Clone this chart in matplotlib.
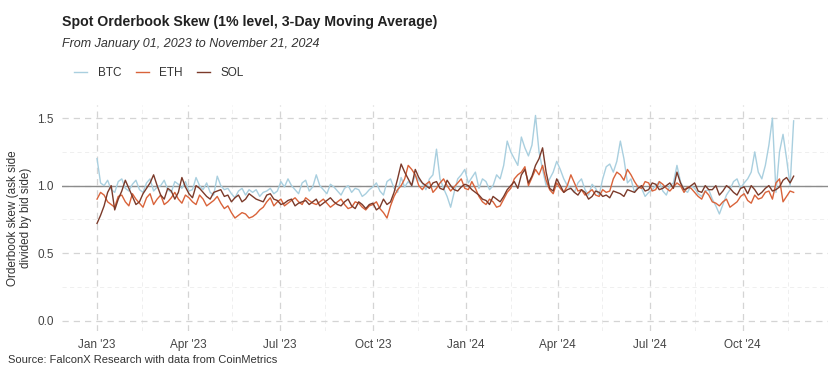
import matplotlib.pyplot as plt
import matplotlib.dates as mdates
import pandas as pd

plt.rcParams['font.family'] = ['Liberation Sans', 'DejaVu Sans']

# values every 3.5 days, Jan 1 2023 -> Nov 20 2024
dates = pd.date_range("2023-01-01", periods=198, freq="84h")

btc = [1.20, 1.02, 1.00, 1.04, 0.97, 0.95, 1.03, 1.05, 0.98, 0.96, 1.01, 1.04, 0.97, 0.95, 1.02, 1.05, 0.96, 0.99, 1.00, 1.04,
       0.97, 0.95, 1.03, 1.01, 0.98, 1.03, 0.96, 0.97, 1.06, 1.00, 0.97, 1.02, 0.95, 0.93, 1.07, 1.00, 0.97, 0.98, 0.94, 0.91,
       0.96, 0.98, 0.93, 0.97, 0.95, 0.97, 0.92, 0.95, 0.96, 0.98, 0.94, 0.96, 1.03, 0.99, 1.05, 1.00, 0.97, 0.94, 1.02, 1.04,
       0.96, 0.99, 1.08, 1.00, 0.97, 0.94, 1.01, 0.99, 0.96, 0.93, 0.98, 1.00, 0.95, 0.98, 0.97, 0.92, 0.94, 0.97, 0.99, 1.02,
       0.96, 0.93, 1.03, 1.05, 0.98, 0.95, 1.06, 0.99, 1.03, 1.00, 1.08, 1.04, 1.02, 0.97, 1.05, 1.08, 1.27, 1.05, 0.98, 0.92,
       0.84, 0.95, 1.05, 1.08, 1.12, 1.02, 1.06, 1.10, 0.98, 1.05, 1.03, 0.97, 1.00, 1.08, 1.05, 1.15, 1.33, 1.25, 1.20, 1.15,
       1.36, 1.28, 1.22, 1.30, 1.52, 1.25, 1.12, 1.00, 1.05, 1.10, 1.18, 1.12, 1.05, 1.00, 0.98, 0.95, 1.02, 1.05, 0.97, 0.93,
       1.01, 0.98, 0.93, 1.05, 1.14, 1.16, 1.10, 1.18, 1.33, 1.20, 1.02, 1.05, 0.95, 1.00, 0.98, 0.92, 0.95, 0.97, 1.00, 1.03,
       0.96, 0.93, 1.00, 1.02, 1.15, 1.03, 0.97, 0.95, 1.00, 0.98, 0.94, 0.92, 0.96, 0.97, 0.90, 0.85, 0.79, 0.86, 0.93, 0.97,
       1.03, 1.05, 0.98, 1.02, 1.05, 1.10, 1.25, 1.10, 1.05, 1.15, 1.30, 1.50, 0.95, 1.25, 1.38, 1.20, 1.00, 1.48]

eth = [0.90, 0.95, 0.93, 0.88, 0.86, 0.84, 0.92, 0.93, 0.88, 0.85, 0.94, 0.90, 0.87, 0.84, 0.91, 0.94, 0.86, 0.90, 0.93, 0.86,
       0.88, 0.91, 0.95, 0.90, 0.87, 0.93, 0.91, 0.88, 0.86, 0.93, 0.90, 0.85, 0.87, 0.89, 0.92, 0.87, 0.83, 0.85, 0.80, 0.76,
       0.78, 0.80, 0.79, 0.76, 0.77, 0.79, 0.82, 0.84, 0.88, 0.91, 0.85, 0.88, 0.90, 0.85, 0.87, 0.89, 0.91, 0.88, 0.86, 0.91,
       0.89, 0.87, 0.86, 0.88, 0.90, 0.87, 0.84, 0.86, 0.88, 0.90, 0.86, 0.83, 0.84, 0.88, 0.87, 0.84, 0.82, 0.85, 0.86, 0.88,
       0.83, 0.80, 0.76, 0.85, 0.92, 0.97, 1.00, 1.05, 1.15, 1.12, 1.08, 1.00, 0.97, 1.01, 1.03, 0.95, 0.98, 1.02, 1.05, 1.00,
       0.96, 0.99, 1.02, 1.05, 0.98, 0.97, 1.03, 0.98, 0.92, 0.88, 0.86, 0.90, 0.88, 0.84, 0.85, 0.90, 0.95, 0.98, 1.05, 1.08,
       1.10, 1.14, 1.00, 1.06, 1.12, 1.08, 1.15, 1.04, 0.97, 0.94, 1.02, 0.98, 0.95, 1.00, 1.08, 1.02, 0.96, 0.97, 0.93, 0.95,
       0.97, 0.93, 0.92, 0.97, 0.95, 0.96, 1.05, 1.10, 1.08, 1.04, 1.12, 1.08, 1.03, 0.99, 0.98, 1.03, 1.02, 0.96, 0.97, 1.03,
       1.01, 0.98, 0.96, 0.99, 1.02, 1.00, 0.95, 0.99, 0.98, 0.95, 0.92, 0.90, 0.96, 0.93, 0.88, 0.87, 0.85, 0.88, 0.90, 0.84,
       0.86, 0.88, 0.92, 0.94, 0.89, 0.87, 0.93, 0.90, 0.91, 0.95, 0.96, 0.90, 1.02, 1.05, 0.88, 0.92, 0.96, 0.95]

sol = [0.72, 0.78, 0.85, 0.95, 1.00, 0.82, 0.90, 0.96, 1.04, 0.98, 0.92, 0.86, 0.88, 0.94, 0.98, 1.02, 1.08, 1.00, 0.93, 0.90,
       0.98, 0.96, 0.90, 0.95, 1.06, 0.99, 0.94, 0.91, 1.00, 0.98, 0.95, 0.92, 0.90, 0.95, 0.96, 0.97, 0.92, 0.93, 0.88, 0.91,
       0.93, 0.88, 0.90, 0.94, 0.92, 0.90, 0.89, 0.88, 0.93, 0.94, 0.90, 0.89, 0.86, 0.87, 0.89, 0.90, 0.85, 0.87, 0.88, 0.89,
       0.86, 0.88, 0.90, 0.85, 0.87, 0.89, 0.91, 0.88, 0.86, 0.85, 0.88, 0.90, 0.85, 0.83, 0.88, 0.86, 0.83, 0.86, 0.87, 0.82,
       0.84, 0.90, 0.86, 0.88, 0.95, 1.05, 1.16, 1.10, 1.05, 1.00, 1.12, 1.06, 1.02, 1.00, 0.98, 1.02, 1.03, 0.98, 0.97, 1.04,
       1.00, 0.97, 0.96, 0.99, 1.01, 1.00, 0.97, 0.95, 0.93, 0.90, 0.89, 0.86, 0.92, 0.90, 0.88, 0.92, 0.97, 1.00, 1.03, 0.98,
       1.08, 1.12, 1.02, 1.07, 1.15, 1.20, 1.28, 1.10, 0.98, 0.96, 1.05, 1.00, 0.95, 0.97, 0.98, 0.95, 0.93, 0.97, 0.95, 0.90,
       0.92, 0.96, 0.95, 0.92, 0.93, 0.91, 0.96, 0.95, 0.94, 0.92, 0.97, 0.96, 0.95, 0.98, 1.00, 0.96, 0.97, 1.02, 1.01, 0.97,
       0.98, 1.00, 1.02, 0.98, 1.10, 1.02, 0.97, 0.98, 1.00, 1.02, 0.96, 0.95, 1.00, 0.97, 0.97, 1.00, 0.93, 0.96, 1.00, 0.98,
       0.95, 0.93, 0.98, 0.99, 0.94, 1.00, 0.97, 0.93, 0.95, 0.98, 1.00, 0.96, 0.97, 0.99, 1.04, 1.06, 1.02, 1.07]

series = [("BTC", btc, "#a9cfdf"), ("ETH", eth, "#d9633a"), ("SOL", sol, "#7b3a2a")]

fig = plt.figure(figsize=(8.29, 3.73), dpi=100)
ax = fig.add_axes([0.075, 0.113, 0.925, 0.605])

for name, vals, col in series:
    ax.plot(dates, vals, color=col, lw=1.0, label=name)

ax.axhline(1.0, color="#8c8c8c", lw=1.0, zorder=1)

start, end = pd.Timestamp("2023-01-01"), pd.Timestamp("2024-11-21")
pad = (end - start) * 0.05
ax.set_xlim(start - pad, end + pad)
ax.set_ylim(-0.076, 1.596)

ax.set_yticks([0.0, 0.5, 1.0, 1.5])
ax.set_yticks([0.25, 0.75, 1.25], minor=True)
ax.yaxis.set_major_formatter(plt.FuncFormatter(lambda v, p: f"{v:.1f}"))
ax.xaxis.set_major_locator(mdates.MonthLocator(bymonth=[1, 4, 7, 10]))
ax.xaxis.set_major_formatter(mdates.DateFormatter("%b '%y"))
ax.xaxis.set_minor_locator(mdates.MonthLocator(bymonth=[2, 5, 8, 11], bymonthday=15))

ax.grid(True, which="major", color="#d4d4d4", ls=(0, (5, 4)), lw=0.9)
ax.grid(True, which="minor", color="#ececec", ls=(0, (5, 4)), lw=0.6)
ax.set_axisbelow(True)
for s in ax.spines.values():
    s.set_visible(False)
ax.tick_params(which="both", length=0, labelsize=8.5, labelcolor="#444444", pad=6)

ax.set_ylabel("Orderbook skew (ask side\ndivided by bid side)", fontsize=8.5, color="#333333",
              linespacing=1.1)

fig.text(0.075, 0.94, "Spot Orderbook Skew (1% level, 3-Day Moving Average)",
         fontsize=10.2, fontweight="bold", color="#222222", va="center")
fig.text(0.075, 0.882, "From January 01, 2023 to November 21, 2024",
         fontsize=9, style="italic", color="#333333", va="center")
fig.text(0.01, 0.035, "Source: FalconX Research with data from CoinMetrics",
         fontsize=8, color="#333333", va="center")

fig.legend(loc="center left", bbox_to_anchor=(0.077, 0.804), ncol=3, frameon=False,
           fontsize=8.5, handlelength=1.1, handletextpad=0.9, columnspacing=1.2,
           labelcolor="#333333")

fig.savefig("out.png", dpi=100)
